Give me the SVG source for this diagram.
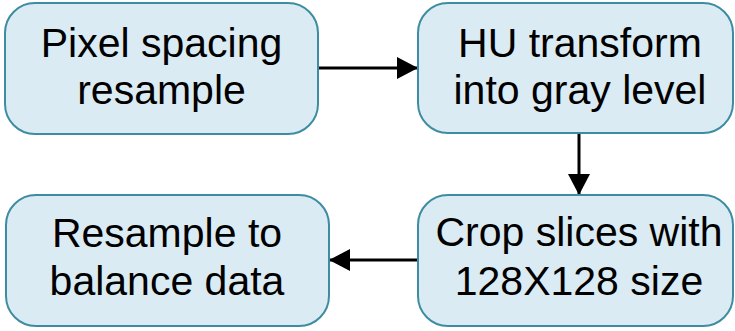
<svg xmlns="http://www.w3.org/2000/svg" width="735" height="331" viewBox="0 0 735 331">
<style>
.box{fill:#dbebf3;stroke:#3d8ca2;stroke-width:2}
.t{font-family:"Liberation Sans","Open Sans",sans-serif;font-size:41px;fill:#000;text-anchor:middle}
.c{stroke:#000;stroke-width:3;fill:none}
</style>
<defs>
<marker id="ah" markerWidth="22" markerHeight="22" refX="20" refY="11" orient="auto" markerUnits="userSpaceOnUse">
<path d="M0,0 L21,11 L0,22 Z" fill="#000"/>
</marker>
</defs>
<rect width="735" height="331" fill="#fff"/>
<g id="connectors">
<line class="c" x1="318" y1="68" x2="417" y2="68" marker-end="url(#ah)"/>
<line class="c" x1="579" y1="133" x2="579" y2="194" marker-end="url(#ah)"/>
<line class="c" x1="418" y1="260" x2="330" y2="260" marker-end="url(#ah)"/>
</g>
<g id="n1">
<rect class="box" x="5" y="3" width="313" height="131" rx="30"/>
<text class="t"><tspan x="161.5" y="57">Pixel spacing</tspan><tspan x="161.5" y="104">resample</tspan></text>
</g>
<g id="n2">
<rect class="box" x="418" y="3" width="315" height="130" rx="30"/>
<text class="t"><tspan x="580" y="57">HU transform</tspan><tspan x="580" y="104">into gray level</tspan></text>
</g>
<g id="n3">
<rect class="box" x="418" y="195" width="315" height="131" rx="30"/>
<text class="t"><tspan x="579" y="246">Crop slices with</tspan><tspan x="579" y="295">128X128 size</tspan></text>
</g>
<g id="n4">
<rect class="box" x="6" y="195" width="323" height="131" rx="30"/>
<text class="t"><tspan x="167" y="247">Resample to</tspan><tspan x="167" y="295">balance data</tspan></text>
</g>
</svg>
